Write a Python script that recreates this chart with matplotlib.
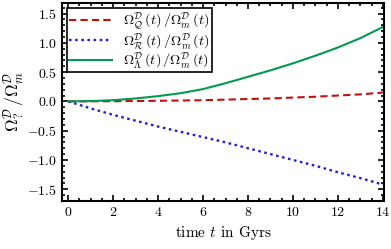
import matplotlib
matplotlib.use('Agg')
import matplotlib.pyplot as plt
from matplotlib.ticker import MultipleLocator

# values
t = [0, 1, 2, 3, 4, 5, 6, 7, 8, 9, 10, 11, 12, 13, 14]
ratio_Q = [0, 0.001, 0.003, 0.006, 0.01, 0.015, 0.02, 0.03, 0.04, 0.05, 0.065, 0.08, 0.10, 0.12, 0.15]
ratio_R = [0, -0.12, -0.23, -0.33, -0.43, -0.52, -0.61, -0.70, -0.80, -0.90, -1.00, -1.10, -1.21, -1.31, -1.42]
ratio_L = [0, 0.005, 0.02, 0.05, 0.09, 0.14, 0.21, 0.31, 0.42, 0.53, 0.65, 0.78, 0.92, 1.08, 1.27]

lab_Q = r'$\Omega^{\mathcal{D}}_{\mathcal{Q}}\,(t)\,/\Omega^{\mathcal{D}}_{m}\,(t)$'
lab_R = r'$\Omega^{\mathcal{D}}_{\mathcal{R}}\,(t)\,/\Omega^{\mathcal{D}}_{m}\,(t)$'
lab_L = r'$\Omega^{\mathcal{D}}_{\Lambda}\,(t)\,/\Omega^{\mathcal{D}}_{m}\,(t)$'

plt.rcParams['font.family'] = 'serif'
plt.rcParams['font.serif'] = ['cmr10']
plt.rcParams['mathtext.fontset'] = 'cm'
plt.rcParams['axes.formatter.use_mathtext'] = True
plt.rcParams['font.size'] = 10

fig = plt.figure(figsize=(3.91, 2.49), dpi=100)
ax = fig.add_axes([0.159, 0.193, 0.823, 0.795])

ax.plot(t, ratio_Q, '--', color='#c01010', lw=1.5, dashes=(3.5, 2), label=lab_Q)
ax.plot(t, ratio_R, ':', color='#2222cc', lw=1.7, dashes=(1.1, 1.5), label=lab_R)
ax.plot(t, ratio_L, '-', color='#009a50', lw=1.5, label=lab_L)

ax.set_xlim(-0.27, 14.05)
ax.set_ylim(-1.7, 1.68)
ax.xaxis.set_major_locator(MultipleLocator(2))
ax.xaxis.set_minor_locator(MultipleLocator(0.5))
ax.yaxis.set_major_locator(MultipleLocator(0.5))
ax.yaxis.set_minor_locator(MultipleLocator(0.1))
ax.tick_params(which='both', direction='in', top=True, right=True, width=1.2)
ax.tick_params(which='major', length=4)
ax.tick_params(which='minor', length=2)
for s in ax.spines.values():
    s.set_linewidth(1.5)

ax.set_xlabel(r'time $t$ in Gyrs', fontsize=11)
ax.set_ylabel(r'$\Omega^{\mathcal{D}}_{?}\,/\Omega^{\mathcal{D}}_{m}$', fontsize=12.5, labelpad=1)

leg = ax.legend(loc='upper left', fontsize=10.2, fancybox=False, framealpha=1,
                edgecolor='black', borderaxespad=0.35, handlelength=3.0,
                handletextpad=0.8, labelspacing=0.0, borderpad=0.15)
leg.get_frame().set_linewidth(1.2)

plt.savefig('out.png', dpi=100)
